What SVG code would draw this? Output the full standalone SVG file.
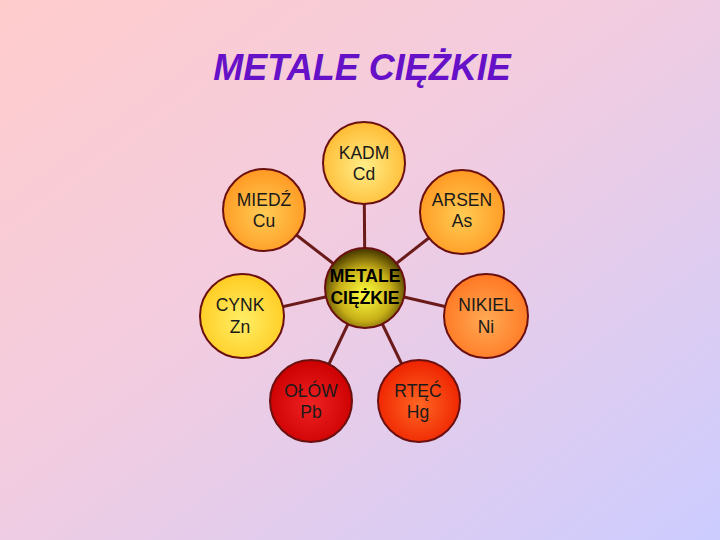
<svg xmlns="http://www.w3.org/2000/svg" width="720" height="540" viewBox="0 0 720 540">
<defs>
<linearGradient id="bg" x1="0" y1="0" x2="1" y2="1">
<stop offset="0" stop-color="#ffcccc"/>
<stop offset="0.45" stop-color="#f2cce0"/>
<stop offset="1" stop-color="#ccccff"/>
</linearGradient>
<radialGradient id="gY" cx="0.5" cy="0.55" r="0.55"><stop offset="0" stop-color="#ffee88"/><stop offset="1" stop-color="#ffbb33"/></radialGradient>
<radialGradient id="gO" cx="0.5" cy="0.55" r="0.55"><stop offset="0" stop-color="#ffcc55"/><stop offset="1" stop-color="#ff9922"/></radialGradient>
<radialGradient id="gCy" cx="0.5" cy="0.55" r="0.55"><stop offset="0" stop-color="#ffee66"/><stop offset="1" stop-color="#ffcc22"/></radialGradient>
<radialGradient id="gN" cx="0.5" cy="0.55" r="0.55"><stop offset="0" stop-color="#ffaa55"/><stop offset="1" stop-color="#ff7722"/></radialGradient>
<radialGradient id="gP" cx="0.5" cy="0.55" r="0.55"><stop offset="0" stop-color="#ee2222"/><stop offset="1" stop-color="#cc0000"/></radialGradient>
<radialGradient id="gH" cx="0.5" cy="0.55" r="0.55"><stop offset="0" stop-color="#ff6622"/><stop offset="1" stop-color="#ee2200"/></radialGradient>
<radialGradient id="gC" cx="0.5" cy="0.58" r="0.55"><stop offset="0" stop-color="#ffff40"/><stop offset="0.6" stop-color="#c8b018"/><stop offset="1" stop-color="#504000"/></radialGradient>
</defs>
<style>
.n{stroke:#6b1010;stroke-width:2}
.t{font-family:"Liberation Sans",Arial,sans-serif;font-size:17.5px;fill:#1a1a1a;text-anchor:middle}
.b{font-weight:bold;fill:#000}
.c{stroke:#6b1a1a;stroke-width:3;fill:none}
</style>
<rect width="720" height="540" fill="url(#bg)"/>
<text x="362" y="80" font-family="'Liberation Sans',Arial,sans-serif" font-size="36" font-weight="bold" font-style="italic" fill="#6610c8" text-anchor="middle">METALE CIĘŻKIE</text>
<g id="connectors">
<line class="c" x1="365" y1="288" x2="364" y2="163"/>
<line class="c" x1="365" y1="288" x2="264" y2="210"/>
<line class="c" x1="365" y1="288" x2="462" y2="212"/>
<line class="c" x1="365" y1="288" x2="242" y2="316"/>
<line class="c" x1="365" y1="288" x2="486" y2="316"/>
<line class="c" x1="365" y1="288" x2="311" y2="402"/>
<line class="c" x1="365" y1="288" x2="420" y2="402"/>
</g>
<g id="kadm"><circle class="n" cx="364" cy="163" r="41" fill="url(#gY)"/><text class="t" x="364" y="159">KADM</text><text class="t" x="364" y="180">Cd</text></g>
<g id="miedz"><circle class="n" cx="264" cy="210" r="41" fill="url(#gO)"/><text class="t" x="264" y="206">MIEDŹ</text><text class="t" x="264" y="227">Cu</text></g>
<g id="arsen"><circle class="n" cx="462" cy="212" r="42" fill="url(#gO)"/><text class="t" x="462" y="206">ARSEN</text><text class="t" x="462" y="227">As</text></g>
<g id="cynk"><circle class="n" cx="242" cy="316" r="42" fill="url(#gCy)"/><text class="t" x="240" y="311">CYNK</text><text class="t" x="240" y="333">Zn</text></g>
<g id="nikiel"><circle class="n" cx="486" cy="316" r="42" fill="url(#gN)"/><text class="t" x="486" y="311">NIKIEL</text><text class="t" x="486" y="333">Ni</text></g>
<g id="olow"><circle class="n" cx="311" cy="401" r="41" fill="url(#gP)"/><text class="t" x="311" y="397">OŁÓW</text><text class="t" x="311" y="418">Pb</text></g>
<g id="rtec"><circle class="n" cx="419" cy="401" r="41" fill="url(#gH)"/><text class="t" x="418" y="397">RTĘĆ</text><text class="t" x="418" y="418">Hg</text></g>
<g id="center"><circle class="n" cx="365" cy="288" r="40" fill="url(#gC)"/><text class="t b" x="365" y="282">METALE</text><text class="t b" x="365" y="304">CIĘŻKIE</text></g>
</svg>
